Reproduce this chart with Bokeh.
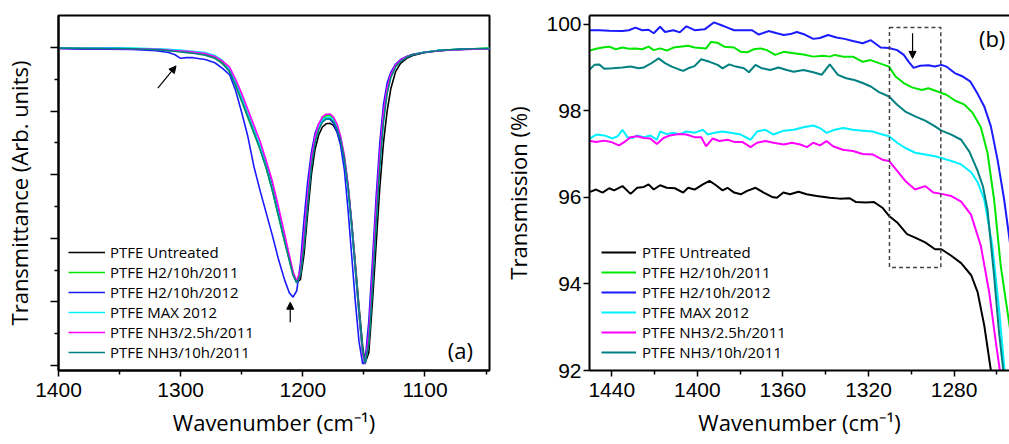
from bokeh.plotting import figure
from bokeh.layouts import row
from bokeh.models import (Range1d, FixedTicker, LinearAxis, Label, Arrow, NormalHead,
                          PolyAnnotation, CustomJSTickFormatter)
from bokeh.embed import file_html
from bokeh.resources import INLINE

SERIES = ["PTFE Untreated", "PTFE H2/10h/2011", "PTFE H2/10h/2012",
          "PTFE MAX 2012", "PTFE NH3/2.5h/2011", "PTFE NH3/10h/2011"]
COLORS = ["#000000", "#00e600", "#1a1aff", "#00f0ff", "#ff00ff", "#008080"]

# ---------------- panel (a): wavenumber grid and transmittance (arb. units)
WN_A = [1400, 1380, 1360, 1340, 1320, 1310, 1305, 1300, 1295, 1290, 1280, 1272, 1266, 1260,
        1255, 1250, 1245, 1240, 1235, 1230, 1225, 1220, 1215, 1211, 1208, 1205,
        1202, 1199, 1196, 1193, 1190, 1187, 1184, 1181, 1178, 1175, 1172, 1169, 1166, 1163,
        1160, 1157, 1154, 1151, 1149, 1146, 1143, 1140, 1137, 1134, 1131, 1128,
        1124, 1120, 1115, 1110, 1100, 1090, 1080, 1070, 1060, 1047]

A_UNTREATED = [0.998, 0.997, 0.998, 0.996, 0.994, 0.991, 0.99, 0.988, 0.986, 0.984,
               0.978, 0.97, 0.955, 0.93,
               0.89, 0.84, 0.79, 0.74, 0.69, 0.635, 0.565, 0.485, 0.405,
               0.34, 0.29, 0.262,
               0.27, 0.35, 0.48, 0.6, 0.68, 0.725, 0.75, 0.76, 0.762, 0.755, 0.735, 0.7,
               0.645, 0.565, 0.45, 0.32, 0.185, 0.06,
               0.008,
               0.04, 0.2, 0.38, 0.56, 0.7, 0.8, 0.87,
               0.925, 0.95, 0.966, 0.975,
               0.984, 0.989, 0.992, 0.994, 0.996, 0.997]
A_H2_2011 = [0.999, 0.998, 0.998, 0.997, 0.995, 0.992, 0.99, 0.988, 0.986, 0.984,
             0.978, 0.968, 0.952, 0.925,
             0.88, 0.83, 0.78, 0.73, 0.68, 0.62, 0.55, 0.47, 0.39,
             0.33, 0.285, 0.262,
             0.3, 0.4, 0.53, 0.645, 0.715, 0.755, 0.775, 0.785, 0.786, 0.776, 0.752, 0.715,
             0.655, 0.565, 0.44, 0.3, 0.16, 0.035,
             0.005,
             0.1, 0.29, 0.49, 0.665, 0.8, 0.875, 0.915,
             0.945, 0.96, 0.972, 0.979,
             0.986, 0.99, 0.993, 0.995, 0.996, 0.998]
A_H2_2012 = [0.997, 0.995, 0.995, 0.994, 0.99, 0.984, 0.978, 0.966, 0.968, 0.968,
             0.962, 0.952, 0.935, 0.915,
             0.865, 0.795, 0.72, 0.625, 0.55, 0.48, 0.41, 0.335, 0.27,
             0.228, 0.215, 0.235,
             0.32, 0.46, 0.58, 0.67, 0.73, 0.76, 0.772, 0.777, 0.775, 0.762, 0.735, 0.69,
             0.615, 0.49, 0.345, 0.2, 0.075, 0.005,
             0.015,
             0.14, 0.33, 0.53, 0.7, 0.82, 0.888, 0.922,
             0.948, 0.962, 0.972, 0.978,
             0.985, 0.99, 0.992, 0.994, 0.995, 0.996]
A_MAX_2012 = [0.998, 0.998, 0.999, 0.998, 0.996, 0.994, 0.993, 0.992, 0.99, 0.988,
              0.984, 0.975, 0.96, 0.932,
              0.89, 0.84, 0.79, 0.74, 0.69, 0.63, 0.56, 0.48, 0.4,
              0.335, 0.29, 0.262,
              0.29, 0.39, 0.52, 0.64, 0.71, 0.75, 0.77, 0.78, 0.781, 0.772, 0.75, 0.712,
              0.65, 0.56, 0.435, 0.3, 0.165, 0.04,
              0.005,
              0.08, 0.26, 0.46, 0.64, 0.78, 0.865, 0.91,
              0.942, 0.958, 0.97, 0.978,
              0.986, 0.99, 0.993, 0.995, 0.996, 0.997]
A_NH3_25 = [0.997, 0.997, 0.997, 0.996, 0.994, 0.992, 0.99, 0.989, 0.988, 0.986,
            0.981, 0.972, 0.958, 0.938,
            0.9, 0.855, 0.805, 0.755, 0.705, 0.645, 0.58, 0.5, 0.415,
            0.345, 0.295, 0.265,
            0.3, 0.41, 0.54, 0.65, 0.72, 0.76, 0.782, 0.79, 0.791, 0.782, 0.76, 0.72,
            0.66, 0.57, 0.445, 0.305, 0.165, 0.035,
            0.004,
            0.1, 0.29, 0.49, 0.665, 0.795, 0.872, 0.915,
            0.945, 0.96, 0.971, 0.978,
            0.985, 0.989, 0.992, 0.994, 0.995, 0.996]
A_NH3_10 = [0.998, 0.997, 0.997, 0.996, 0.993, 0.99, 0.988, 0.986, 0.984, 0.982,
            0.976, 0.966, 0.95, 0.925,
            0.882, 0.832, 0.782, 0.732, 0.68, 0.622, 0.552, 0.472, 0.392,
            0.33, 0.284, 0.26,
            0.285, 0.375, 0.505, 0.625, 0.7, 0.742, 0.765, 0.775, 0.776, 0.767, 0.745, 0.708,
            0.65, 0.562, 0.44, 0.305, 0.17, 0.045,
            0.006,
            0.07, 0.245, 0.445, 0.625, 0.765, 0.855, 0.905,
            0.94, 0.956, 0.969, 0.977,
            0.985, 0.99, 0.993, 0.995, 0.996, 0.997]

# ---------------- panel (b): zoomed spectra, transmission (%)
WB_UNTREATED = [1451, 1447.3, 1444.3, 1441.2, 1438.9, 1435.0, 1431.2, 1428.1, 1425.0, 1422.8,
                1420.4, 1417.4, 1414.3, 1410.5, 1406.6, 1404.3, 1401.3, 1397.4, 1394.3, 1391.3,
                1388.2, 1385.9, 1382.8, 1379.7, 1376.7, 1372.8, 1369.0, 1365.1, 1362.8, 1359.8,
                1356.7, 1352.7, 1348.9, 1344.2, 1338.1, 1333.5, 1328.9, 1325.8, 1321.2, 1317.4,
                1313.5, 1310.4, 1306.6, 1302.0, 1298.2, 1293.5, 1288.9, 1285.9, 1281.3, 1276.7,
                1272.0, 1269.0, 1265.9, 1262.8, 1261.5]
TB_UNTREATED = [96.11, 96.18, 96.11, 96.21, 96.16, 96.26, 96.08, 96.22, 96.24, 96.30,
                96.18, 96.28, 96.22, 96.21, 96.11, 96.22, 96.18, 96.30, 96.38, 96.28,
                96.16, 96.22, 96.11, 96.07, 96.15, 96.22, 96.11, 96.01, 95.99, 96.11,
                96.07, 96.13, 96.07, 96.03, 95.99, 95.97, 95.98, 95.89, 95.88, 95.89,
                95.76, 95.57, 95.42, 95.15, 95.07, 94.96, 94.80, 94.80, 94.65, 94.48,
                94.20, 93.81, 93.04, 92.0, 91.5]

WB_H2_2011 = [1451, 1447.3, 1444.3, 1441.2, 1438.1, 1435.0, 1432.0, 1428.9, 1425.8, 1422.8,
              1420.4, 1417.4, 1414.3, 1411.2, 1408.2, 1404.3, 1401.3, 1395.9, 1393.6, 1390.5,
              1387.4, 1382.8, 1379.7, 1376.7, 1373.6, 1370.5, 1367.5, 1363.6, 1359.6, 1355.0,
              1350.4, 1345.8, 1341.2, 1338.1, 1335.8, 1331.9, 1327.3, 1322.7, 1318.9, 1315.1,
              1310.4, 1307.4, 1303.5, 1299.7, 1295.1, 1292.0, 1287.4, 1283.6, 1279.4, 1275.1,
              1271.3, 1267.5, 1264.4, 1261.3, 1258.2, 1254.1, 1252.0]
TB_H2_2011 = [99.38, 99.43, 99.46, 99.48, 99.42, 99.46, 99.43, 99.44, 99.42, 99.48,
              99.40, 99.44, 99.39, 99.46, 99.48, 99.50, 99.46, 99.44, 99.59, 99.57,
              99.48, 99.46, 99.36, 99.35, 99.42, 99.44, 99.40, 99.29, 99.36, 99.33,
              99.30, 99.25, 99.27, 99.25, 99.29, 99.25, 99.25, 99.13, 99.17, 99.10,
              99.02, 98.79, 98.64, 98.54, 98.48, 98.52, 98.44, 98.37, 98.23, 98.14,
              97.95, 97.62, 97.03, 95.95, 94.42, 93.04, 92.3]

WB_H2_2012 = [1451, 1445.8, 1441.2, 1435.0, 1432.0, 1428.9, 1425.8, 1422.8, 1420.4, 1417.4,
              1415.1, 1411.2, 1408.2, 1405.1, 1401.3, 1396.6, 1392.3, 1389.0, 1385.9, 1382.8,
              1378.2, 1374.4, 1371.3, 1366.7, 1362.8, 1359.6, 1356.5, 1353.5, 1349.8, 1345.8,
              1342.7, 1338.9, 1335.0, 1331.2, 1327.3, 1322.7, 1318.9, 1314.3, 1310.4, 1306.6,
              1303.5, 1301.2, 1298.9, 1295.9, 1292.0, 1289.0, 1285.9, 1283.6, 1279.7, 1275.9,
              1272.5, 1269.0, 1265.9, 1262.8, 1259.7, 1256.6, 1254.1, 1252.0]
TB_H2_2012 = [99.86, 99.86, 99.85, 99.84, 99.86, 99.92, 99.86, 99.87, 99.79, 99.94,
              99.82, 99.86, 99.81, 99.95, 99.86, 99.88, 100.04, 99.98, 99.92, 99.86,
              99.86, 99.86, 99.76, 99.84, 99.79, 99.75, 99.77, 99.82, 99.76, 99.66,
              99.68, 99.75, 99.69, 99.66, 99.61, 99.56, 99.63, 99.46, 99.45, 99.40,
              99.29, 99.13, 98.99, 99.04, 99.05, 99.02, 99.06, 99.02, 98.87, 98.79,
              98.68, 98.39, 98.10, 97.64, 96.87, 95.95, 95.03, 94.2]

WB_MAX_2012 = [1451, 1447.3, 1443.5, 1439.6, 1437.3, 1435.0, 1432.7, 1430.4, 1428.1, 1425.0,
               1422.0, 1418.9, 1417.4, 1414.3, 1411.2, 1408.2, 1405.1, 1401.3, 1397.4, 1395.1,
               1392.0, 1388.2, 1384.4, 1379.7, 1375.1, 1372.1, 1368.2, 1364.4, 1359.6, 1355.0,
               1350.4, 1345.8, 1342.7, 1339.6, 1335.8, 1331.9, 1327.3, 1322.7, 1318.1, 1313.5,
               1310.4, 1306.6, 1302.8, 1298.2, 1293.5, 1289.0, 1285.9, 1281.3, 1276.7, 1272.0,
               1269.0, 1265.9, 1262.1, 1259.0, 1256.4, 1255.5]
TB_MAX_2012 = [97.33, 97.45, 97.43, 97.36, 97.41, 97.56, 97.39, 97.37, 97.43, 97.39,
               97.43, 97.33, 97.52, 97.46, 97.49, 97.46, 97.52, 97.49, 97.56, 97.45,
               97.49, 97.52, 97.49, 97.45, 97.33, 97.52, 97.56, 97.45, 97.54, 97.56,
               97.62, 97.66, 97.60, 97.49, 97.56, 97.60, 97.56, 97.54, 97.52, 97.45,
               97.41, 97.26, 97.14, 97.03, 96.99, 96.95, 96.91, 96.84, 96.76, 96.58,
               96.35, 95.95, 94.88, 93.43, 92.0, 91.5]

WB_NH3_25 = [1451, 1447.3, 1443.5, 1440.4, 1436.6, 1433.5, 1431.2, 1428.1, 1425.0, 1422.0,
             1418.9, 1415.8, 1412.8, 1408.9, 1405.1, 1401.3, 1398.2, 1395.9, 1392.8, 1389.7,
             1385.9, 1382.8, 1379.0, 1375.1, 1372.1, 1368.2, 1364.4, 1359.6, 1355.8, 1351.9,
             1348.8, 1345.8, 1342.7, 1339.6, 1336.6, 1332.0, 1327.3, 1322.7, 1318.1, 1313.5,
             1310.4, 1306.6, 1302.8, 1298.2, 1293.5, 1289.7, 1285.9, 1281.3, 1276.7, 1272.1,
             1267.5, 1263.6, 1260.5, 1258.6, 1257.8]
TB_NH3_25 = [97.31, 97.28, 97.31, 97.28, 97.20, 97.30, 97.39, 97.41, 97.37, 97.36,
             97.23, 97.37, 97.43, 97.46, 97.45, 97.39, 97.39, 97.18, 97.36, 97.30,
             97.33, 97.28, 97.28, 97.16, 97.26, 97.30, 97.26, 97.22, 97.26, 97.22,
             97.16, 97.26, 97.20, 97.30, 97.18, 97.10, 97.07, 97.00, 96.99, 96.87,
             96.84, 96.61, 96.38, 96.18, 96.26, 96.11, 96.08, 96.03, 95.90, 95.60,
             94.88, 93.81, 92.66, 92.0, 91.5]

WB_NH3_10 = [1451, 1448.1, 1445.8, 1443.5, 1439.6, 1435.0, 1431.2, 1427.4, 1425.0, 1422.0,
             1418.1, 1415.1, 1412.0, 1408.9, 1406.6, 1404.3, 1401.3, 1398.2, 1394.3, 1390.5,
             1388.2, 1385.1, 1382.0, 1378.2, 1375.9, 1372.8, 1369.8, 1365.9, 1362.1, 1358.2,
             1355.0, 1350.4, 1345.8, 1341.9, 1338.1, 1334.3, 1330.4, 1326.6, 1322.7, 1318.9,
             1315.1, 1310.4, 1306.6, 1302.8, 1298.2, 1293.5, 1288.9, 1285.9, 1281.3, 1276.7,
             1272.8, 1269.0, 1266.5, 1264.4, 1261.3, 1259.0, 1257.0, 1256.2]
TB_NH3_10 = [98.92, 99.06, 99.07, 98.97, 98.98, 99.00, 99.02, 98.98, 99.00, 99.08,
             99.21, 99.10, 99.02, 98.96, 98.92, 98.98, 99.03, 99.19, 99.13, 99.06,
             98.98, 99.07, 99.02, 98.98, 98.89, 99.06, 98.98, 98.94, 99.00, 98.94,
             98.90, 98.94, 98.89, 98.83, 99.07, 98.83, 98.75, 98.71, 98.64, 98.56,
             98.43, 98.33, 98.14, 97.98, 97.87, 97.77, 97.64, 97.54, 97.45, 97.33,
             97.05, 96.61, 96.25, 95.72, 94.19, 92.89, 92.0, 91.5]

A_CURVES = [A_UNTREATED, A_H2_2011, A_H2_2012, A_MAX_2012, A_NH3_25, A_NH3_10]
B_CURVES = [(WB_UNTREATED, TB_UNTREATED), (WB_H2_2011, TB_H2_2011), (WB_H2_2012, TB_H2_2012),
            (WB_MAX_2012, TB_MAX_2012), (WB_NH3_25, TB_NH3_25), (WB_NH3_10, TB_NH3_10)]

X_TITLE = "Wavenumber (cm\u207b\u00b9)"


def style_axis(ax, tick_out=6, minor_out=4):
    ax.axis_line_width = 2
    ax.axis_line_color = "black"
    ax.major_tick_line_width = 1.5
    ax.minor_tick_line_width = 1.5
    ax.major_tick_line_color = "black"
    ax.minor_tick_line_color = "black"
    ax.major_tick_in = 0
    ax.minor_tick_in = 0
    ax.major_tick_out = tick_out
    ax.minor_tick_out = minor_out
    ax.major_label_text_font = "Liberation Sans"
    ax.major_label_text_font_size = "21px"
    ax.major_label_text_color = "black"
    ax.axis_label_text_font = "Open Sans"
    ax.axis_label_text_font_size = "22px"
    ax.axis_label_text_font_style = "normal"
    ax.axis_label_text_color = "black"


def style_legend(p, vx, vy, glyph_w, standoff):
    lg = p.legend[0]
    lg.location = (vx, vy)
    lg.margin = 0
    lg.padding = 0
    lg.spacing = 0
    lg.glyph_width = glyph_w
    lg.glyph_height = 20
    lg.label_height = 20
    lg.label_standoff = standoff
    lg.label_text_font = "Open Sans"
    lg.label_text_font_size = "15px"
    lg.label_text_color = "black"
    lg.background_fill_alpha = 0
    lg.border_line_alpha = 0


# ================= panel (a)
pa = figure(width=500, height=444, x_range=Range1d(1400, 1047.2), y_range=Range1d(-0.0157, 1.1006),
            output_backend="svg", toolbar_location=None)
pa.min_border = 0
pa.min_border_left = 55
pa.min_border_right = 11
pa.min_border_top = 15
pa.min_border_bottom = 74
pa.xgrid.visible = False
pa.ygrid.visible = False
pa.outline_line_color = "black"
pa.outline_line_width = 2
pa.outline_line_alpha = 1

for ys, name, col in zip(A_CURVES, SERIES, COLORS):
    pa.line(WN_A, ys, line_color=col, line_width=1.6, legend_label=name)

style_axis(pa.xaxis[0], 6, 4)
pa.xaxis.ticker = FixedTicker(ticks=[1100, 1200, 1300, 1400], minor_ticks=[1050, 1150, 1250, 1350])
pa.xaxis.axis_label = X_TITLE
pa.xaxis.major_label_standoff = 6
pa.xaxis.axis_label_standoff = 7

style_axis(pa.yaxis[0], 8, 4)
pa.yaxis.ticker = FixedTicker(ticks=[0, 0.2, 0.4, 0.6, 0.8, 1.0], minor_ticks=[0.1, 0.3, 0.5, 0.7, 0.9])
pa.yaxis.formatter = CustomJSTickFormatter(code="return ''")
pa.yaxis.major_label_standoff = 0
pa.yaxis.axis_label = "Transmittance (Arb. units)"
pa.yaxis.axis_label_standoff = 17

style_legend(pa, 10, 8, 37, 5)

pa.add_layout(Arrow(end=NormalHead(size=7, fill_color="black", line_color="black", line_width=1),
                    x_start=1318.7, y_start=0.872, x_end=1303.8, y_end=0.942,
                    line_color="black", line_width=1.2))
pa.add_layout(Arrow(end=NormalHead(size=7, fill_color="black", line_color="black", line_width=1),
                    x_start=1210.3, y_start=0.136, x_end=1210.3, y_end=0.199,
                    line_color="black", line_width=1.2))
pa.add_layout(Label(x=1081.3, y=0.049, text="(a)", text_font="Open Sans", text_font_size="22px",
                    text_align="left", text_baseline="middle", text_color="black"))

# ================= panel (b)
pb = figure(width=509, height=444, x_range=Range1d(1450.4, 1254.1), y_range=Range1d(92, 100.2),
            output_backend="svg", toolbar_location=None)
pb.min_border = 0
pb.min_border_left = 83
pb.min_border_right = 0
pb.min_border_top = 15
pb.min_border_bottom = 74
pb.xgrid.visible = False
pb.ygrid.visible = False
pb.outline_line_color = None

for (xs, ys), name, col in zip(B_CURVES, SERIES, COLORS):
    pb.line(xs, ys, line_color=col, line_width=2, legend_label=name)

style_axis(pb.xaxis[0], 6, 4)
pb.xaxis.ticker = FixedTicker(ticks=[1280, 1320, 1360, 1400, 1440],
                              minor_ticks=[1260, 1300, 1340, 1380, 1420])
pb.xaxis.axis_label = X_TITLE
pb.xaxis.major_label_standoff = 6
pb.xaxis.axis_label_standoff = 7

style_axis(pb.yaxis[0], 6, 3)
pb.yaxis.ticker = FixedTicker(ticks=[92, 94, 96, 98, 100], minor_ticks=[])
pb.yaxis.major_label_standoff = 2
pb.yaxis.axis_label = "Transmission (%)"
pb.yaxis.axis_label_standoff = 10

top_axis = LinearAxis(ticker=FixedTicker(ticks=[], minor_ticks=[]), axis_line_width=2,
                      axis_line_color="black", major_tick_out=0, minor_tick_out=0,
                      major_tick_in=0, minor_tick_in=0, major_label_standoff=0)
pb.add_layout(top_axis, "above")

style_legend(pb, 12, 8, 35, 6)

pb.add_layout(PolyAnnotation(xs=[1310.2, 1286.2, 1286.2, 1310.2], ys=[99.92, 99.92, 94.38, 94.38],
                             fill_alpha=0, line_color="#444444", line_alpha=1, line_width=1.5,
                             line_dash="4 3"))
pb.add_layout(Arrow(end=NormalHead(size=7, fill_color="black", line_color="black", line_width=1),
                    x_start=1299.4, y_start=99.79, x_end=1299.4, y_end=99.21,
                    line_color="black", line_width=1.2))
pb.add_layout(Label(x=1268.4, y=99.69, text="(b)", text_font="Open Sans", text_font_size="22px",
                    text_align="left", text_baseline="middle", text_color="black"))

layout = row(pa, pb)
open("out.html", "w").write(file_html(layout, INLINE))
